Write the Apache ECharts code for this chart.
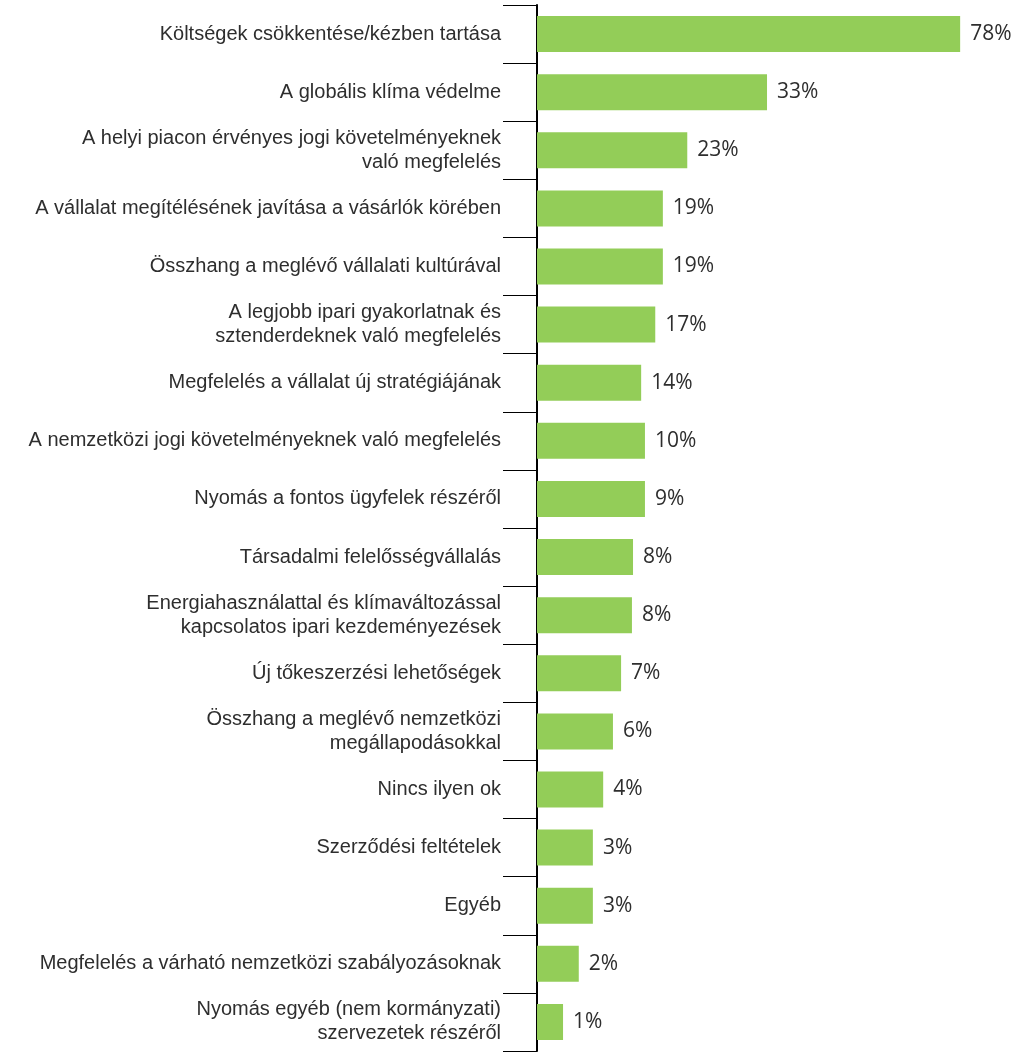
<!DOCTYPE html>
<html>
<head>
<meta charset="utf-8">
<script src="https://cdn.jsdelivr.net/npm/echarts@6/dist/echarts.min.js"></script>
<style>
  html, body { margin: 0; padding: 0; background: #ffffff; }
  #chart { width: 1020px; height: 1055px; }
</style>
</head>
<body>
<div id="chart"></div>
<script>
// Categories, top to bottom
const categories = [
  "Költségek csökkentése/kézben tartása",
  "A globális klíma védelme",
  "A helyi piacon érvényes jogi követelményeknek\nvaló megfelelés",
  "A vállalat megítélésének javítása a vásárlók körében",
  "Összhang a meglévő vállalati kultúrával",
  "A legjobb ipari gyakorlatnak és\nsztenderdeknek való megfelelés",
  "Megfelelés a vállalat új stratégiájának",
  "A nemzetközi jogi követelményeknek való megfelelés",
  "Nyomás a fontos ügyfelek részéről",
  "Társadalmi felelősségvállalás",
  "Energiahasználattal és klímaváltozással\nkapcsolatos ipari kezdeményezések",
  "Új tőkeszerzési lehetőségek",
  "Összhang a meglévő nemzetközi\nmegállapodásokkal",
  "Nincs ilyen ok",
  "Szerződési feltételek",
  "Egyéb",
  "Megfelelés a várható nemzetközi szabályozásoknak",
  "Nyomás egyéb (nem kormányzati)\nszervezetek részéről"
];

// Printed percentage labels
const shares = [78, 33, 23, 19, 19, 17, 14, 10, 9, 8, 8, 7, 6, 4, 3, 3, 2, 1];

// Bar lengths as drawn in the reference (not proportional to the labels),
// read on the same scale as the 78% bar
const drawnLengths = [78, 42.4, 27.7, 23.2, 23.2, 21.8, 19.2, 19.9, 19.9, 17.7, 17.5, 15.5, 14.0, 12.2, 10.3, 10.3, 7.7, 4.8];

const chart = echarts.init(document.getElementById('chart'), null, { renderer: 'canvas' });

chart.setOption({
  backgroundColor: '#ffffff',
  animation: false,
  grid: { left: 537, right: 49, top: 5, bottom: 4, containLabel: false },
  xAxis: {
    type: 'value',
    min: 0,
    max: 80,
    show: false
  },
  yAxis: {
    type: 'category',
    inverse: true,
    data: categories,
    axisLine: { show: true, lineStyle: { color: '#000000', width: 2 } },
    axisTick: { show: true, length: 34, lineStyle: { color: '#000000', width: 1 } },
    axisLabel: {
      margin: 36,
      fontFamily: '"Liberation Sans", Arial, sans-serif',
      fontSize: 20,
      lineHeight: 24,
      color: '#2e2e2e',
      align: 'right'
    },
    splitLine: { show: false }
  },
  series: [{
    type: 'bar',
    data: drawnLengths,
    barWidth: 36,
    itemStyle: { color: '#93cd58' },
    label: {
      show: true,
      position: 'right',
      distance: 10,
      fontFamily: '"Open Sans", sans-serif',
      fontSize: 21,
      color: '#2e2e2e',
      formatter: (p) => shares[p.dataIndex] + '%'
    }
  }]
});
</script>
</body>
</html>
